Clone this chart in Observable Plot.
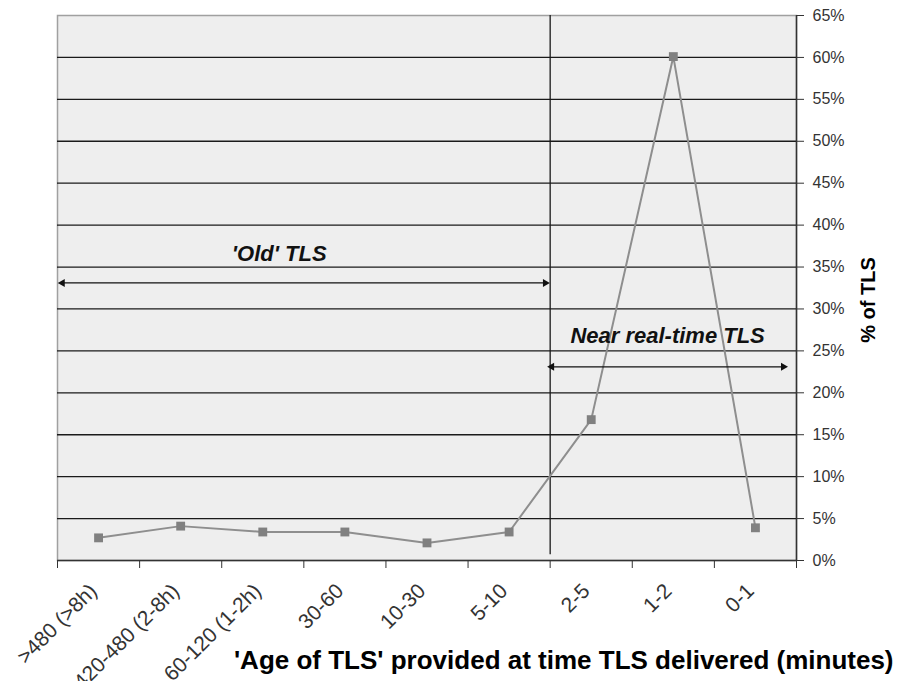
<!DOCTYPE html>
<html>
<head>
<meta charset="utf-8">
<script src="https://cdn.jsdelivr.net/npm/d3@7"></script>
<script src="https://cdn.jsdelivr.net/npm/@observablehq/plot@0.6"></script>
<style>
  html, body { margin: 0; padding: 0; background: #ffffff; }
</style>
</head>
<body>
<div id="chart"></div>
<script>
const categories = [">480 (>8h)", "420-480 (2-8h)", "60-120 (1-2h)", "30-60", "10-30", "5-10", "2-5", "1-2", "0-1"];
const percentTLS = [2.7, 4.1, 3.4, 3.4, 2.1, 3.4, 16.8, 60.1, 3.9];
const yTicks = [0, 5, 10, 15, 20, 25, 30, 35, 40, 45, 50, 55, 60, 65];
const gridValues = [5, 10, 15, 20, 25, 30, 35, 40, 45, 50, 55, 60];
const xTitle = "'Age of TLS' provided at time TLS delivered (minutes)";
const yTitle = "% of TLS";
// annotations in data coordinates (x = category index, y = percent)
const annotationLabels = ["'Old' TLS", "Near real-time TLS"];
const annotationLabelX = [2.2, 6.93];
const annotationLabelY = [36.6, 26.8];
const arrowX1 = [-0.44, 5.52];
const arrowX2 = [5.44, 8.34];
const arrowY = [33.1, 23.1];
const dividerX = 5.5;

const idx = d3.range(categories.length);
const boundaries = d3.range(categories.length + 1).map(i => i - 0.5);
const ann = d3.range(annotationLabels.length);

const chart = Plot.plot({
  width: 898,
  height: 681,
  marginLeft: 57,
  marginRight: 102,
  marginTop: 15,
  marginBottom: 121,
  style: {fontFamily: "'Liberation Sans', Arial, sans-serif", background: "#ffffff", overflow: "visible"},
  x: {type: "linear", domain: [-0.5, categories.length - 0.5]},
  y: {type: "linear", domain: [0, 65]},
  marks: [
    Plot.frame({fill: "#eeeeee", stroke: "#a0a0a0", strokeWidth: 1.5}),
    Plot.ruleY(gridValues, {stroke: "#1a1a1a", strokeWidth: 1.3}),
    Plot.ruleX([dividerX], {y1: 0.7, y2: 65, stroke: "#1a1a1a", strokeWidth: 1.3}),
    Plot.ruleY([0], {stroke: "#333333", strokeWidth: 1.5}),
    Plot.ruleX([categories.length - 0.5], {stroke: "#333333", strokeWidth: 1.5}),
    Plot.axisY(yTicks, {anchor: "right", tickSize: 7, tickPadding: 9, tickFormat: d => d + "%", fontSize: 16, color: "#333333", label: null}),
    Plot.axisX(boundaries, {tickSize: 8, tickFormat: () => "", label: null, stroke: "#333333"}),
    Plot.axisX(idx, {tickSize: 0, tickPadding: 27, dx: -5, tickRotate: -45, tickFormat: i => categories[i], fontSize: 21, fill: "#333333", label: null}),
    Plot.line(idx, {x: i => i, y: i => percentTLS[i], stroke: "#8e8e8e", strokeWidth: 2}),
    Plot.dot(idx, {x: i => i, y: i => percentTLS[i], symbol: "square", r: 5, fill: "#808080", stroke: "none"}),
    Plot.link(ann, {x1: i => arrowX1[i], x2: i => arrowX2[i], y1: i => arrowY[i], y2: i => arrowY[i], stroke: "#111111", strokeWidth: 1.3}),
    Plot.dot(ann, {x: i => arrowX1[i], y: i => arrowY[i], symbol: "triangle", r: 3, rotate: -90, fill: "#111111", stroke: "none"}),
    Plot.dot(ann, {x: i => arrowX2[i], y: i => arrowY[i], symbol: "triangle", r: 3, rotate: 90, fill: "#111111", stroke: "none"}),
    Plot.text(ann, {x: i => annotationLabelX[i], y: i => annotationLabelY[i], text: i => annotationLabels[i], fontSize: 22, fontWeight: "bold", fontStyle: "italic", fill: "#111111"}),
    Plot.text([xTitle], {frameAnchor: "bottom-right", lineAnchor: "middle", textAnchor: "end", dx: 97, dy: 100, fontSize: 26, fontWeight: "bold", fill: "#000000"}),
    Plot.text([yTitle], {frameAnchor: "right", lineAnchor: "middle", textAnchor: "middle", rotate: -90, dx: 72, dy: 12, fontSize: 20, fontWeight: "bold", fill: "#000000"})
  ]
});
document.getElementById("chart").appendChild(chart);
</script>
</body>
</html>
